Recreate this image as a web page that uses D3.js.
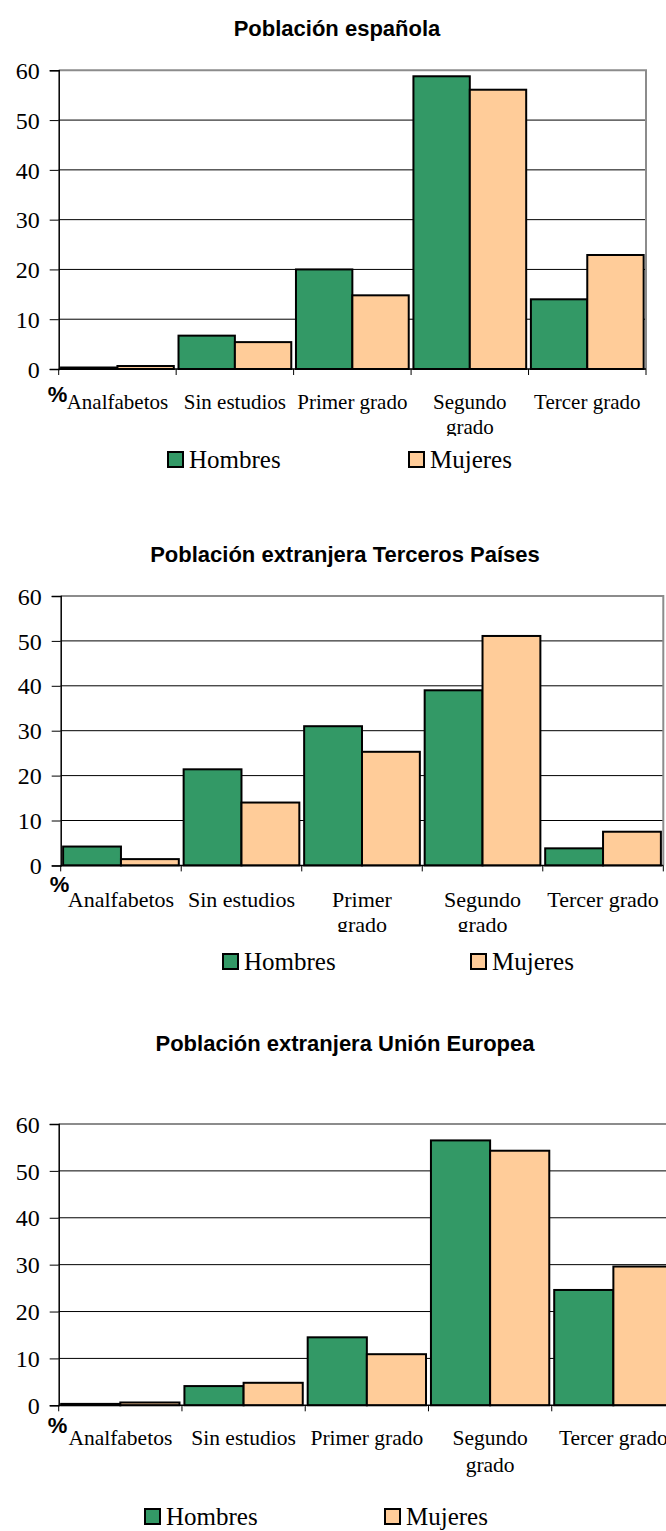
<!DOCTYPE html>
<html>
<head>
<meta charset="utf-8">
<script src="https://cdn.jsdelivr.net/npm/d3@7"></script>
<style>
  html, body { margin: 0; padding: 0; background: #fff; }
  svg { display: block; }
  .serif { font-family: "Liberation Serif", "Tinos", "DejaVu Serif", "Noto Serif", "Times New Roman", serif; }
  .sans { font-family: "Liberation Sans", Arimo, Arial, "DejaVu Sans", sans-serif; }
</style>
</head>
<body>
<svg id="chart" width="666" height="1531"></svg>
<script>
// Nivel de estudios por sexo (%)
const categories = ["Analfabetos", "Sin estudios", "Primer grado", "Segundo grado", "Tercer grado"];
const series = ["Hombres", "Mujeres"];
const yTicks = [0, 10, 20, 30, 40, 50, 60];

const espanolaHombres = [0.3, 6.7, 20.0, 58.8, 14.0];
const espanolaMujeres = [0.6, 5.4, 14.8, 56.1, 22.9];

const tercerosHombres = [4.2, 21.4, 31.0, 39.0, 3.8];
const tercerosMujeres = [1.4, 14.0, 25.3, 51.1, 7.5];

const ueHombres = [0.3, 4.1, 14.5, 56.5, 24.6];
const ueMujeres = [0.6, 4.8, 10.9, 54.3, 29.6];

// Category labels as drawn (line breaks per panel)
const labelsEspanola = [["Analfabetos"], ["Sin estudios"], ["Primer grado"], ["Segundo", "grado"], ["Tercer grado"]];
const labelsTerceros = [["Analfabetos"], ["Sin estudios"], ["Primer", "grado"], ["Segundo", "grado"], ["Tercer grado"]];
const labelsUE = [["Analfabetos"], ["Sin estudios"], ["Primer grado"], ["Segundo", "grado"], ["Tercer grado"]];

const titles = ["Población española", "Población extranjera Terceros Países", "Población extranjera Unión Europea"];

const colors = { Hombres: "#339966", Mujeres: "#FFCC99" };

// Panel geometry
const panels = [
  { title: titles[0], h: espanolaHombres, m: espanolaMujeres, labels: labelsEspanola,
    titleX: 337, titleY: 36, x0: 58.7, x1: 646, top: 70.3, zero: 369, labelY: 409, lineH: 25, clipY: 436,
    pctY: 402, legendY: 460, legH: 167, legM: 408, font: 21 },
  { title: titles[1], h: tercerosHombres, m: tercerosMujeres, labels: labelsTerceros,
    titleX: 345, titleY: 562, x0: 60.7, x1: 663.3, top: 596, zero: 865.4, labelY: 907, lineH: 25, clipY: 932,
    pctY: 892, legendY: 962, legH: 222, legM: 470, font: 22 },
  { title: titles[2], h: ueHombres, m: ueMujeres, labels: labelsUE,
    titleX: 345, titleY: 1051, x0: 58.7, x1: 675, top: 1124, zero: 1405.3, labelY: 1445, lineH: 27, clipY: 1531,
    pctY: 1433, legendY: 1517, legH: 144, legM: 384, font: 21.5 }
];

const svg = d3.select("#chart");

panels.forEach((p, pi) => {
  const g = svg.append("g");

  // title
  g.append("text")
    .attr("class", "sans")
    .attr("x", p.titleX)
    .attr("y", p.titleY)
    .attr("text-anchor", "middle")
    .style("font-weight", "bold")
    .style("font-size", "22px")
    .text(p.title);

  const x = d3.scaleBand().domain(categories).range([p.x0, p.x1])
    .paddingInner(0.04).paddingOuter(0.02);
  const xs = d3.scaleBand().domain(series).range([0, x.bandwidth()]).padding(0);
  const y = d3.scaleLinear().domain([0, 60]).range([p.zero, p.top]);

  // gridlines
  g.append("g").selectAll("line").data(yTicks.filter(t => t > 0 && t < 60)).join("line")
    .attr("x1", p.x0).attr("x2", p.x1)
    .attr("y1", d => y(d)).attr("y2", d => y(d))
    .attr("stroke", "#000").attr("stroke-width", 1);

  // plot border (top and right)
  g.append("path")
    .attr("d", `M${p.x0},${y(60)}H${p.x1}V${y(0)}`)
    .attr("fill", "none").attr("stroke", "#8c8c8c").attr("stroke-width", 2);

  // bars
  const rows = categories.map((c, i) => ({ c, vals: [
    { s: "Hombres", v: p.h[i] }, { s: "Mujeres", v: p.m[i] }] }));
  g.append("g").selectAll("g").data(rows).join("g")
    .attr("transform", d => `translate(${x(d.c)},0)`)
    .selectAll("rect").data(d => d.vals).join("rect")
    .attr("x", d => xs(d.s))
    .attr("width", xs.bandwidth())
    .attr("y", d => y(d.v))
    .attr("height", d => y(0) - y(d.v))
    .attr("fill", d => colors[d.s])
    .attr("stroke", "#000").attr("stroke-width", 2);

  // y axis
  const yAxis = d3.axisLeft(y).tickValues(yTicks).tickSize(9).tickPadding(10).tickFormat(d3.format("d"));
  const ya = g.append("g").attr("transform", `translate(${p.x0},0)`).call(yAxis)
    .attr("font-family", null).attr("font-size", null);
  ya.select(".domain").attr("stroke", "#000").attr("stroke-width", 1.5);
  ya.selectAll(".tick line").attr("stroke", "#000");
  ya.selectAll(".tick text")
    .attr("class", "serif")
    .style("font-size", "24px").attr("fill", "#000")
    .attr("dy", "0.34em");

  // x axis line with category boundary ticks
  g.append("line").attr("x1", p.x0).attr("x2", p.x1)
    .attr("y1", y(0)).attr("y2", y(0)).attr("stroke", "#000").attr("stroke-width", 1.5);
  const bounds = d3.range(categories.length + 1).map(i => p.x0 + i * x.step());
  g.append("g").selectAll("line").data(bounds).join("line")
    .attr("x1", d => d).attr("x2", d => d)
    .attr("y1", y(0)).attr("y2", y(0) + 6)
    .attr("stroke", "#000").attr("stroke-width", 1);

  // category labels
  const clipId = "clip" + pi;
  svg.append("clipPath").attr("id", clipId).append("rect")
    .attr("x", 0).attr("y", y(0)).attr("width", 666).attr("height", p.clipY - y(0));
  const lab = g.append("g").attr("clip-path", `url(#${clipId})`);
  lab.selectAll("text").data(categories).join("text")
    .attr("class", "serif")
    .attr("x", d => x(d) + x.bandwidth() / 2)
    .attr("y", p.labelY)
    .attr("text-anchor", "middle")
    .style("font-size", p.font + "px")
    .each(function(d, i) {
      d3.select(this).selectAll("tspan").data(p.labels[i]).join("tspan")
        .attr("x", x(d) + x.bandwidth() / 2)
        .attr("dy", (t, j) => j === 0 ? 0 : p.lineH)
        .text(t => t);
    });

  // % unit
  g.append("text").attr("class", "sans").attr("x", p.x0 - 11).attr("y", p.pctY)
    .style("font-weight", "bold").style("font-size", "22px")
    .text("%");

  // legend
  const leg = g.append("g");
  const legX = { Hombres: p.legH, Mujeres: p.legM };
  series.forEach(s => {
    leg.append("rect").attr("x", legX[s] + 1).attr("y", p.legendY - 8)
      .attr("width", 15).attr("height", 15)
      .attr("fill", colors[s]).attr("stroke", "#000").attr("stroke-width", 2);
    leg.append("text").attr("class", "serif").attr("x", legX[s] + 22).attr("y", p.legendY + 8)
      .style("font-size", "25px")
      .text(s);
  });
});
</script>
</body>
</html>
